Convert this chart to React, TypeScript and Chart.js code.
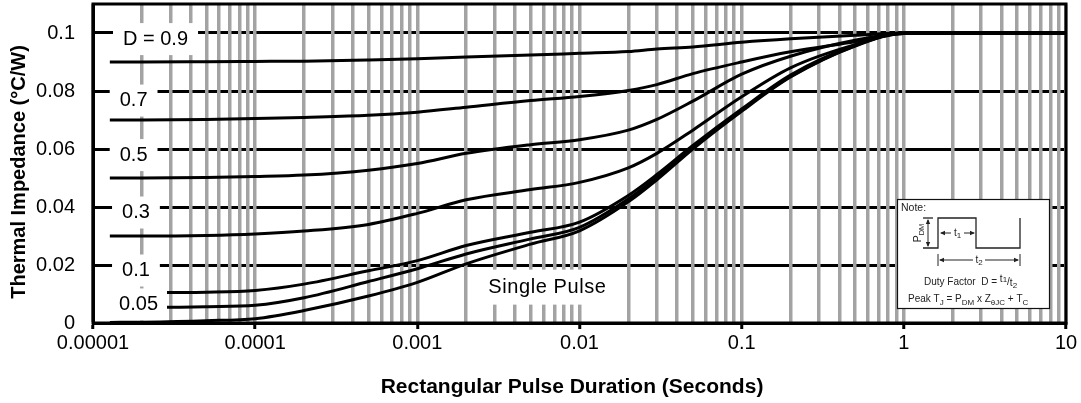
import React, { useEffect, useRef } from "react";
import { Chart, registerables } from "chart.js";

Chart.register(...registerables);

// ---------- data ----------
const xDecades = [1e-5, 1e-4, 1e-3, 1e-2, 1e-1, 1, 10];
const xDecadeLabels = ["0.00001", "0.0001", "0.001", "0.01", "0.1", "1", "10"];
const xMinorSteps = [2, 3, 4, 5, 6, 7, 8, 9];
const yTickValues = [0, 0.02, 0.04, 0.06, 0.08, 0.1];
const yTickLabels = ["0", "0.02", "0.04", "0.06", "0.08", "0.1"];

const timesFull = [1.27e-5, 2e-5, 5e-5, 1e-4, 2e-4, 5e-4, 1e-3, 2e-3, 5e-3, 1e-2, 2e-2, 3e-2, 5e-2, 0.1, 0.2, 0.5, 1, 10];
const timesShort = [2.86e-5, 5e-5, 1e-4, 2e-4, 5e-4, 1e-3, 2e-3, 5e-3, 1e-2, 2e-2, 3e-2, 5e-2, 0.1, 0.2, 0.5, 1, 10];

const zD09 = [0.09, 0.09, 0.0901, 0.0902, 0.0903, 0.0907, 0.0911, 0.0917, 0.0924, 0.093, 0.0936, 0.0945, 0.0952, 0.0968, 0.098, 0.0992, 0.1, 0.1];
const zD07 = [0.07, 0.07, 0.0702, 0.0705, 0.0709, 0.0716, 0.0727, 0.0744, 0.0767, 0.0781, 0.0802, 0.0822, 0.086, 0.09, 0.0935, 0.097, 0.0998, 0.1];
const zD05 = [0.05, 0.05, 0.0502, 0.0505, 0.051, 0.0527, 0.055, 0.0585, 0.0615, 0.0632, 0.0665, 0.0702, 0.0765, 0.0858, 0.092, 0.0975, 0.0998, 0.1];
const zD03 = [0.03, 0.03, 0.0302, 0.0307, 0.0317, 0.034, 0.0378, 0.0425, 0.046, 0.0485, 0.0535, 0.0585, 0.0665, 0.078, 0.088, 0.096, 0.0998, 0.1];
const zD01 = [0.0105, 0.0106, 0.0112, 0.0134, 0.018, 0.0215, 0.0267, 0.0313, 0.0348, 0.044, 0.0512, 0.0612, 0.0738, 0.0855, 0.0958, 0.1, 0.1];
const zD005 = [0.0054, 0.0056, 0.0061, 0.0087, 0.0143, 0.0187, 0.0238, 0.029, 0.033, 0.0428, 0.0502, 0.0606, 0.0734, 0.085, 0.0956, 0.1, 0.1];
const zSingle = [0.0002, 0.0003, 0.0008, 0.0015, 0.0043, 0.0093, 0.014, 0.0204, 0.0272, 0.0318, 0.0418, 0.0494, 0.06, 0.073, 0.0848, 0.0955, 0.1, 0.1];

const curveLabels = ["D = 0.9", "0.7", "0.5", "0.3", "0.1", "0.05"];
const curveLabelX = [2.43e-5, 1.78e-5, 1.78e-5, 1.84e-5, 1.84e-5, 1.91e-5];
const curveLabelY = [0.0979, 0.0767, 0.0579, 0.0381, 0.0181, 0.0064];
const singleLabel = "Single Pulse";
const singleLabelX = 6.34e-3;
const singleLabelY = 0.0122;

const xTitle = "Rectangular Pulse Duration (Seconds)";
const yTitle = "Thermal Impedance (\u00B0C/W)";

// ---------- styles ----------
const FONT = '"Liberation Sans", Arial, Helvetica, sans-serif';
const GRID_GRAY = "#a3a3a3";
const TEXT_SIZE = 20;

const isDecade = (v: number) =>
  xDecades.findIndex((d) => Math.abs(Math.log10(v) - Math.log10(d)) < 1e-6);

type Part = { t: string; dy?: number; size?: number };

function partsWidth(ctx: CanvasRenderingContext2D, parts: Part[], base: number) {
  let w = 0;
  for (const p of parts) {
    ctx.font = `${p.size ?? base}px ${FONT}`;
    w += ctx.measureText(p.t).width;
  }
  return w;
}

function drawParts(
  ctx: CanvasRenderingContext2D,
  x: number,
  y: number,
  parts: Part[],
  base: number,
  align: "left" | "center" = "left"
) {
  let cx = align === "center" ? x - partsWidth(ctx, parts, base) / 2 : x;
  ctx.textAlign = "left";
  ctx.textBaseline = "alphabetic";
  for (const p of parts) {
    ctx.font = `${p.size ?? base}px ${FONT}`;
    ctx.fillText(p.t, cx, y + (p.dy ?? 0));
    cx += ctx.measureText(p.t).width;
  }
}

function arrowHead(ctx: CanvasRenderingContext2D, x: number, y: number, dx: number, dy: number) {
  const len = 5;
  const wid = 2.2;
  ctx.beginPath();
  ctx.moveTo(x, y);
  ctx.lineTo(x - dx * len - dy * wid, y - dy * len + dx * wid);
  ctx.lineTo(x - dx * len + dy * wid, y - dy * len - dx * wid);
  ctx.closePath();
  ctx.fill();
}

function seg(ctx: CanvasRenderingContext2D, x1: number, y1: number, x2: number, y2: number) {
  ctx.beginPath();
  ctx.moveTo(x1, y1);
  ctx.lineTo(x2, y2);
  ctx.stroke();
}

function drawNote(ctx: CanvasRenderingContext2D, x0: number, y0: number) {
  const W = 152;
  const H = 109;
  ctx.save();
  ctx.fillStyle = "#fff";
  ctx.fillRect(x0, y0, W, H);
  ctx.strokeStyle = "#111";
  ctx.lineWidth = 1.2;
  ctx.strokeRect(x0 + 0.5, y0 + 0.5, W, H);

  ctx.fillStyle = "#222";
  ctx.strokeStyle = "#222";
  drawParts(ctx, x0 + 4, y0 + 12, [{ t: "Note:" }], 10.5);

  // pulse train
  ctx.lineWidth = 1.3;
  ctx.beginPath();
  ctx.moveTo(x0 + 26, y0 + 49);
  ctx.lineTo(x0 + 41, y0 + 49);
  ctx.lineTo(x0 + 41, y0 + 19);
  ctx.lineTo(x0 + 79, y0 + 19);
  ctx.lineTo(x0 + 79, y0 + 49);
  ctx.lineTo(x0 + 123, y0 + 49);
  ctx.lineTo(x0 + 123, y0 + 19);
  ctx.stroke();
  seg(ctx, x0 + 26, y0 + 19, x0 + 36, y0 + 19);

  // PDM arrow
  ctx.lineWidth = 1;
  seg(ctx, x0 + 31, y0 + 21, x0 + 31, y0 + 47);
  arrowHead(ctx, x0 + 31, y0 + 20, 0, -1);
  arrowHead(ctx, x0 + 31, y0 + 48, 0, 1);

  // PDM label rotated
  ctx.save();
  ctx.translate(x0 + 20, y0 + 34);
  ctx.rotate(-Math.PI / 2);
  drawParts(ctx, 0, 4, [{ t: "P" }, { t: "DM", size: 7.5, dy: 3 }], 10.5, "center");
  ctx.restore();

  // t1 arrow
  seg(ctx, x0 + 44, y0 + 34, x0 + 54, y0 + 34);
  seg(ctx, x0 + 67, y0 + 34, x0 + 77, y0 + 34);
  arrowHead(ctx, x0 + 43, y0 + 34, -1, 0);
  arrowHead(ctx, x0 + 78, y0 + 34, 1, 0);
  drawParts(ctx, x0 + 60.5, y0 + 37, [{ t: "t" }, { t: "1", size: 8, dy: 2 }], 10, "center");

  // t2 arrow
  seg(ctx, x0 + 41, y0 + 55, x0 + 41, y0 + 67);
  seg(ctx, x0 + 123, y0 + 55, x0 + 123, y0 + 67);
  seg(ctx, x0 + 43, y0 + 61, x0 + 76, y0 + 61);
  seg(ctx, x0 + 88, y0 + 61, x0 + 121, y0 + 61);
  arrowHead(ctx, x0 + 42, y0 + 61, -1, 0);
  arrowHead(ctx, x0 + 122, y0 + 61, 1, 0);
  drawParts(ctx, x0 + 82, y0 + 64, [{ t: "t" }, { t: "2", size: 8, dy: 2 }], 10, "center");

  // formulas
  drawParts(
    ctx,
    x0 + 27,
    y0 + 86,
    [
      { t: "Duty Factor  D = " },
      { t: "t", dy: -3 },
      { t: "1", size: 8, dy: -3 },
      { t: "/" },
      { t: "t", dy: 1 },
      { t: "2", size: 8, dy: 3 },
    ],
    10
  );
  drawParts(
    ctx,
    x0 + 11,
    y0 + 103,
    [
      { t: "Peak T" },
      { t: "J", size: 8, dy: 2.5 },
      { t: " = P" },
      { t: "DM", size: 8, dy: 2.5 },
      { t: " x Z" },
      { t: "\u03B8JC", size: 8, dy: 2.5 },
      { t: " + T" },
      { t: "C", size: 8, dy: 2.5 },
    ],
    10
  );
  ctx.restore();
}

const decorPlugin = {
  id: "decor",
  beforeDatasetsDraw(chart: any) {
    const { ctx, scales } = chart;
    const xs = scales.x;
    const ys = scales.y;
    ctx.save();
    ctx.font = `${TEXT_SIZE}px ${FONT}`;
    ctx.fillStyle = "#fff";
    curveLabels.forEach((txt, i) => {
      const cx = xs.getPixelForValue(curveLabelX[i]);
      const cy = ys.getPixelForValue(curveLabelY[i]);
      const w = ctx.measureText(txt).width;
      ctx.fillRect(cx - w / 2 - 10, cy - 16, w + 20, 32);
    });
    const sx = xs.getPixelForValue(singleLabelX);
    const sy = ys.getPixelForValue(singleLabelY);
    const sw = ctx.measureText(singleLabel).width + 6;
    ctx.fillRect(sx - sw / 2 - 4, sy - 18, sw + 8, 35);
    ctx.restore();
  },
  afterDatasetsDraw(chart: any) {
    const { ctx, scales } = chart;
    const xs = scales.x;
    const ys = scales.y;
    ctx.save();
    ctx.font = `${TEXT_SIZE}px ${FONT}`;
    ctx.fillStyle = "#000";
    ctx.textAlign = "center";
    ctx.textBaseline = "middle";
    curveLabels.forEach((txt, i) => {
      ctx.fillText(txt, xs.getPixelForValue(curveLabelX[i]), ys.getPixelForValue(curveLabelY[i]));
    });
    (ctx as any).letterSpacing = "0.6px";
    ctx.fillText(singleLabel, xs.getPixelForValue(singleLabelX), ys.getPixelForValue(singleLabelY));
    ctx.restore();
  },
  afterDraw(chart: any) {
    const { ctx, chartArea } = chart;
    const { left, top, right, bottom } = chartArea;
    ctx.save();
    // frame
    ctx.strokeStyle = "#000";
    ctx.lineWidth = 3;
    ctx.strokeRect(left, top, right - left, bottom - top);
    // note box
    drawNote(ctx, right - 169, top + 195);
    // axis titles
    ctx.fillStyle = "#000";
    ctx.font = `bold 20px ${FONT}`;
    ctx.textAlign = "center";
    ctx.textBaseline = "middle";
    ctx.save();
    ctx.translate(572, 387);
    ctx.scale(1.05, 1);
    ctx.fillText(xTitle, 0, 0);
    ctx.restore();
    ctx.translate(19, 172);
    ctx.rotate(-Math.PI / 2);
    ctx.fillText(yTitle, 0, 0);
    ctx.restore();
  },
};

export default function App() {
  const canvasRef = useRef<HTMLCanvasElement | null>(null);

  useEffect(() => {
    const canvas = canvasRef.current;
    if (!canvas) return;
    const mk = (times: number[], vals: number[]) => times.map((t, i) => ({ x: t, y: vals[i] }));
    const series = [
      { name: "D = 0.9", data: mk(timesFull, zD09) },
      { name: "D = 0.7", data: mk(timesFull, zD07) },
      { name: "D = 0.5", data: mk(timesFull, zD05) },
      { name: "D = 0.3", data: mk(timesFull, zD03) },
      { name: "D = 0.1", data: mk(timesShort, zD01) },
      { name: "D = 0.05", data: mk(timesShort, zD005) },
      { name: "Single Pulse", data: mk(timesFull, zSingle) },
    ];
    const xTickValues: number[] = [];
    xDecades.forEach((d, i) => {
      xTickValues.push(d);
      if (i < xDecades.length - 1) xMinorSteps.forEach((m) => xTickValues.push(d * m));
    });

    const chart = new Chart(canvas, {
      type: "line",
      data: {
        datasets: series.map((s) => ({
          label: s.name,
          data: s.data,
          borderColor: "#000",
          borderWidth: 3,
          pointRadius: 0,
          fill: false,
          cubicInterpolationMode: "monotone" as const,
        })),
      },
      options: {
        responsive: false,
        animation: false,
        devicePixelRatio: 1,
        layout: { padding: { left: 0, right: 15, top: 4, bottom: 0 } },
        plugins: { legend: { display: false }, tooltip: { enabled: false } },
        scales: {
          x: {
            type: "logarithmic",
            min: 1e-5,
            max: 10,
            afterBuildTicks: (s: any) => {
              s.ticks = xTickValues.map((v) => ({ value: v }));
            },
            afterFit: (s: any) => {
              s.height = 80;
              s.paddingLeft = 0;
              s.paddingRight = 0;
            },
            grid: {
              z: -1,
              color: GRID_GRAY,
              lineWidth: 3.5,
              drawTicks: true,
              tickLength: 6,
              tickWidth: 3,
              tickColor: (c: any) => (c.tick && isDecade(c.tick.value) >= 0 ? "#000" : "rgba(0,0,0,0)"),
            },
            border: { display: true, color: "#000", width: 3 },
            ticks: {
              autoSkip: false,
              maxRotation: 0,
              minRotation: 0,
              padding: 2,
              color: "#000",
              font: { family: FONT, size: TEXT_SIZE },
              callback: (v: any) => {
                const i = isDecade(Number(v));
                return i >= 0 ? xDecadeLabels[i] : "";
              },
            },
            title: { display: false },
          },
          y: {
            type: "linear",
            min: 0,
            max: 0.11,
            afterBuildTicks: (s: any) => {
              s.ticks = yTickValues.map((v) => ({ value: v }));
            },
            afterFit: (s: any) => {
              s.width = 93;
              s.paddingTop = 0;
              s.paddingBottom = 0;
            },
            grid: { z: -2, color: "#000", lineWidth: 3, drawTicks: false },
            border: { display: true, color: "#000", width: 3 },
            ticks: {
              padding: 18,
              color: "#000",
              font: { family: FONT, size: TEXT_SIZE },
              callback: (_v: any, i: number) => yTickLabels[i] ?? "",
            },
            title: { display: false },
          },
        },
      },
      plugins: [decorPlugin],
    } as any);
    return () => chart.destroy();
  }, []);

  return (
    <div style={{ position: "fixed", left: 0, top: 0, width: 1081, height: 403, background: "#fff" }}>
      <canvas ref={canvasRef} width={1081} height={403} style={{ display: "block" }} />
    </div>
  );
}
